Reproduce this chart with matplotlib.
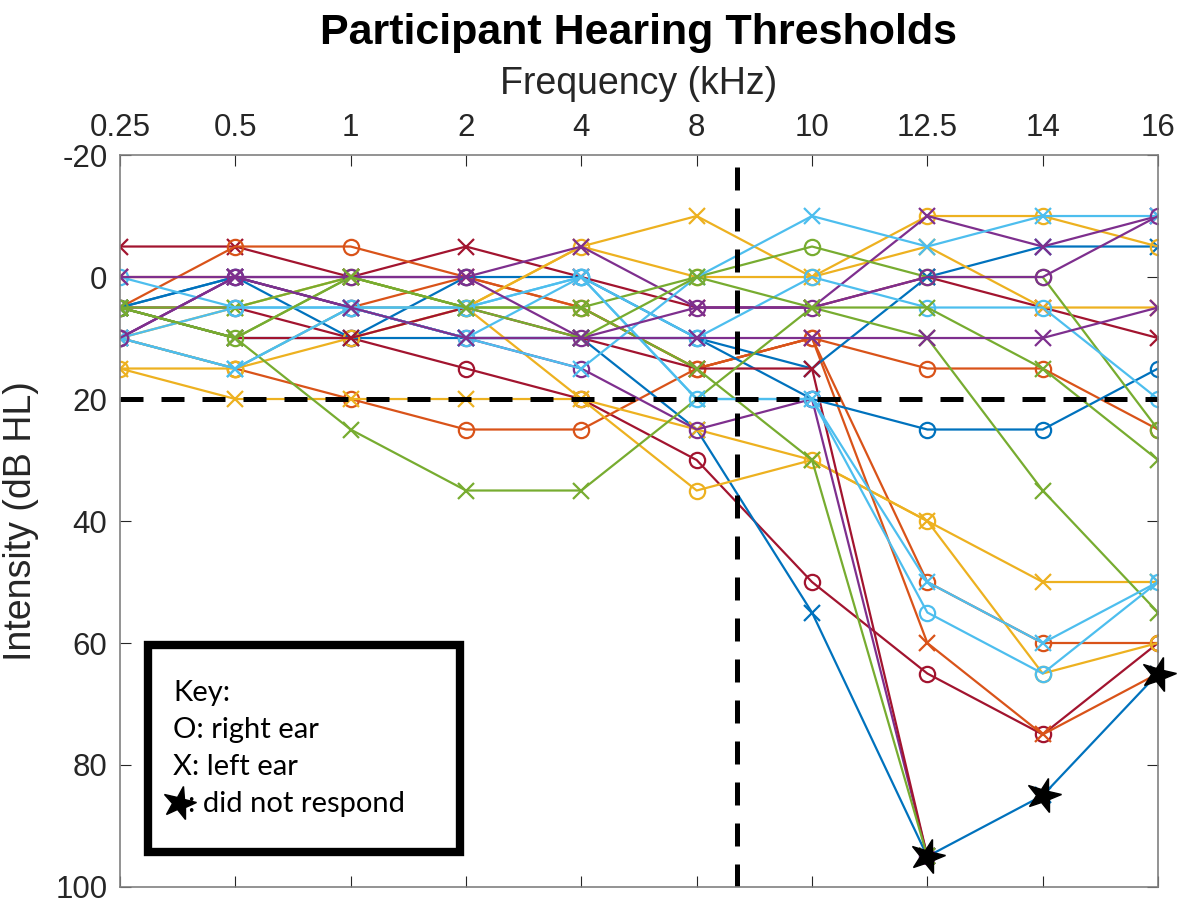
import numpy as np
import matplotlib.pyplot as plt
from matplotlib.markers import MarkerStyle
from matplotlib.transforms import Affine2D

# ---------------------------------------------
# Data (dB HL per frequency)
# ---------------------------------------------
freq_labels = ["0.25", "0.5", "1", "2", "4", "8", "10", "12.5", "14", "16"]
nan = np.nan

s01 = [-5, -5, 0, -5, 0, 5, 5, 0, 5, 10]
s02 = [5, 5, 10, 15, 20, 30, 50, 65, 75, 60]
s03 = [5, -5, -5, 0, 5, 15, 10, 15, 15, 25]
s04 = [10, 15, 20, 25, 25, 15, 10, 50, 60, 60]
s05 = [0, 0, 5, 0, 5, 15, 10, 60, 75, 65]
s06 = [5, 0, 10, 0, 0, 10, 20, 25, 25, 15]
s07 = [5, 10, 10, 10, 10, 10, 15, 0, -5, -5]
s08 = [5, 0, 5, 10, 10, 25, 55, 95, 85, 65]
s09 = [15, 15, 10, 5, -5, 0, 0, -10, -10, -5]
s10 = [15, 20, 20, 20, 20, 25, 30, 40, 50, 50]
s11 = [10, 5, 0, 5, -5, -10, 0, -5, 5, 5]
s12 = [10, 15, 5, 5, 20, 35, 30, 40, 65, 60]
s13 = [10, 0, 0, 0, -5, 5, 5, -10, -5, -10]
s14 = [10, 0, 5, 10, 15, 25, 20, 95, nan, nan]
s15 = [5, 10, 10, 5, 10, 15, 15, 95, nan, nan]
s16 = [5, 10, 25, 35, 35, 20, 5, 10, 35, 55]
s17 = [5, 10, 0, 5, 5, 0, -5, 0, 0, 25]
s18 = [5, 5, 0, 5, 5, 15, 30, 95, nan, nan]
s19 = [10, 15, 5, 10, 15, 0, -10, -5, -10, -10]
s20 = [0, 5, 5, 5, 0, 20, 20, 55, 65, 50]
s21 = [10, 5, 5, 10, 0, 10, 0, 5, 5, 20]
s22 = [10, 15, 5, 5, 0, 20, 20, 50, 60, 50]
s23 = [10, 0, 0, 0, 10, 5, 5, 0, 0, -10]
s24 = [5, 10, 0, 5, 10, 0, 5, 5, 15, 30]
s25 = [0, 0, 5, 10, 10, 10, 10, 10, 10, 5]

series = [s01, s02, s03, s04, s05, s06, s07, s08, s09, s10, s11, s12, s13,
          s14, s15, s16, s17, s18, s19, s20, s21, s22, s23, s24, s25]

# no-response points (blue participant)
nr_idx = [7, 8, 9]
nr_vals = [95, 85, 65]

# ---------------------------------------------
# Styles
# ---------------------------------------------
B, O, Y, P, G, L, C = ("#0072BD", "#D95319", "#EDB120", "#7E2F8E",
                       "#77AC30", "#4DBEEE", "#A2142F")
colors = [C, C, O, O, O, B, B, B, Y, Y, Y, Y, P, P, C, G, G, G, L, L, L, L,
          P, G, P]
markers = ["x", "o", "o", "o", "x", "o", "x", "x", "o", "x", "x", "o", "x",
           "o", "x", "x", "o", "x", "x", "o", "o", "x", "o", "x", "x"]

plt.rcParams["font.family"] = ["Liberation Sans", "DejaVu Sans"]
plt.rcParams["axes.unicode_minus"] = False

star = MarkerStyle("*", transform=Affine2D().rotate_deg(-15))

fig = plt.figure(figsize=(11.83, 9.05), dpi=100)
ax = fig.add_axes([0.1014, 0.0199, 0.8775, 0.8088])

x = np.arange(len(freq_labels))
for vals, col, mk in zip(series, colors, markers):
    ax.plot(x, vals, color=col, marker=mk, linewidth=1.6, markersize=11,
            markerfacecolor="none", markeredgewidth=1.6)

ax.plot(nr_idx, nr_vals, linestyle="none", marker=star, color="black",
        markersize=26, clip_on=False, zorder=4)

# reference dashed lines
ax.axhline(20, color="black", linestyle=(0, (4.6, 3.6)), linewidth=3.6)
ax.axvline(5.35, color="black", linestyle=(0, (4.6, 3.6)), linewidth=3.6)

ax.set_xlim(0, 9)
ax.set_ylim(100, -20)
ax.set_xticks(x)
ax.set_xticklabels(freq_labels)
ax.set_yticks([-20, 0, 20, 40, 60, 80, 100])
ax.xaxis.tick_top()
ax.xaxis.set_label_position("top")
ax.tick_params(axis="x", which="both", top=True, bottom=True, direction="in",
               length=8, labelsize=22.5, colors="#262626", pad=9)
ax.tick_params(axis="y", which="both", left=True, right=True, direction="in",
               length=8, labelsize=22.5, colors="#262626", pad=9)
for sp in ax.spines.values():
    sp.set_color("#808080")
    sp.set_linewidth(1.2)

ax.set_xlabel("Frequency (kHz)", fontsize=27, color="#262626", labelpad=13)
ax.set_ylabel("Intensity (dB HL)", fontsize=27, color="#262626", labelpad=12)
ax.set_title("Participant Hearing Thresholds", fontsize=31, fontweight="bold",
             pad=16)

# key box
kx0, ky0, kx1, ky1 = 148 / 1183, 1 - 852 / 905, 460 / 1183, 1 - 645 / 905
fig.patches.append(plt.Rectangle((kx0, ky0), kx1 - kx0, ky1 - ky0,
                                 transform=fig.transFigure, fill=True,
                                 facecolor="white", edgecolor="black",
                                 linewidth=6, zorder=5))
key_font = ["Lato", "DejaVu Sans"]
key_lines = ["Key:", "O: right ear", "X: left ear"]
for i, t in enumerate(key_lines):
    fig.text(173 / 1183, 1 - (693 + 37 * i) / 905, t, fontsize=21,
             family=key_font, va="center", ha="left", zorder=6)
fig.text(188 / 1183, 1 - 804 / 905, ": did not respond", fontsize=21,
         family=key_font, va="center", ha="left", zorder=6)
fig.lines.append(plt.Line2D([179 / 1183], [1 - 803 / 905],
                            transform=fig.transFigure, marker=star,
                            color="black", markersize=25, zorder=6))

plt.savefig("out.png", dpi=100)
